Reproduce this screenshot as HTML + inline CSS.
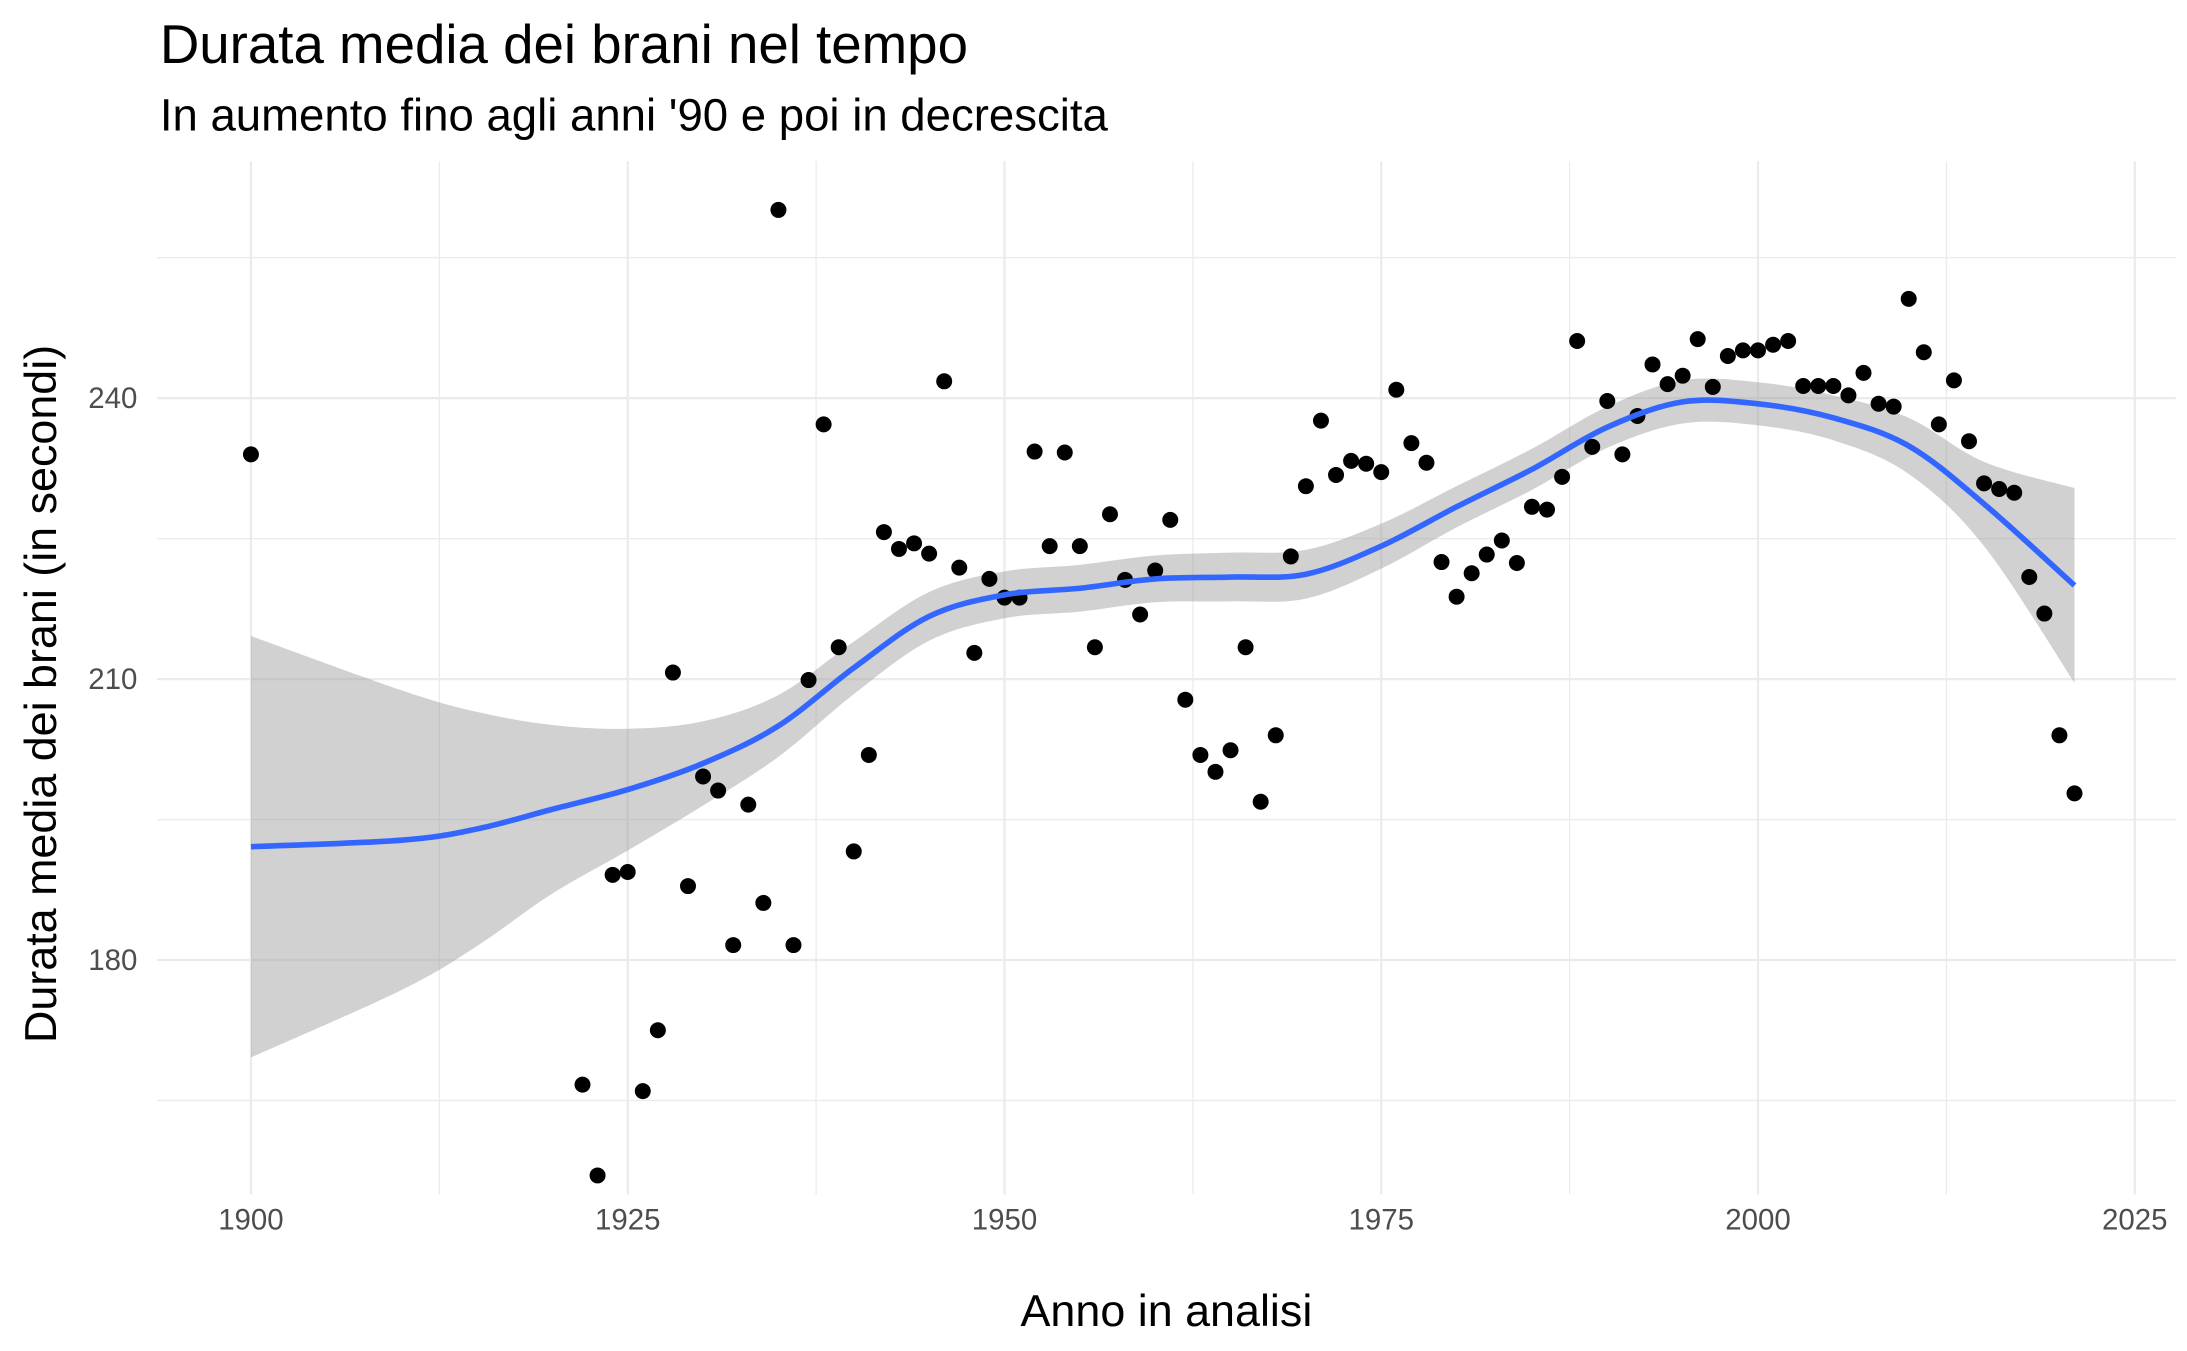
<!DOCTYPE html>
<html><head><meta charset="utf-8"><style>
html,body{margin:0;padding:0;background:#fff;}
svg{display:block;font-family:"Liberation Sans",Arial,sans-serif;}
</style></head><body>
<svg id="chart" width="2187" height="1351" viewBox="0 0 1560 963.66" xmlns="http://www.w3.org/2000/svg">
<text x="114" y="45" font-size="39" fill="#000">Durata media dei brani nel tempo</text>
<text x="114" y="93" font-size="32.5" fill="#000">In aumento fino agli anni '90 e poi in decrescita</text>
<g id="grid"></g>
<g id="band"></g>
<g id="pts"></g>
<g id="trend"></g>
<g id="axes"></g>
<text x="832" y="946" font-size="32" text-anchor="middle" fill="#000">Anno in analisi</text>
<text transform="translate(40,495) rotate(-90)" font-size="32" text-anchor="middle" fill="#000">Durata media dei brani (in secondi)</text>
</svg>
<script>
const years=[1900,1922,1923,1924,1925,1926,1927,1928,1929,1930,1931,1932,1933,1934,1935,1936,1937,1938,1939,1940,1941,1942,1943,1944,1945,1946,1947,1948,1949,1950,1951,1952,1953,1954,1955,1956,1957,1958,1959,1960,1961,1962,1963,1964,1965,1966,1967,1968,1969,1970,1971,1972,1973,1974,1975,1976,1977,1978,1979,1980,1981,1982,1983,1984,1985,1986,1987,1988,1989,1990,1991,1992,1993,1994,1995,1996,1997,1998,1999,2000,2001,2002,2003,2004,2005,2006,2007,2008,2009,2010,2011,2012,2013,2014,2015,2016,2017,2018,2019,2020,2021];
const durations=[234.0,166.7,157.0,189.1,189.4,166.0,172.5,210.7,187.9,199.6,198.1,181.6,196.6,186.1,260.1,181.6,209.9,237.2,213.4,191.6,201.9,225.7,223.9,224.5,223.4,241.8,221.9,212.8,220.7,218.7,218.7,234.3,224.2,234.2,224.2,213.4,227.6,220.6,216.9,221.6,227.0,207.8,201.9,200.1,202.4,213.4,196.9,204.0,223.1,230.6,237.6,231.8,233.3,233.0,232.1,240.9,235.2,233.1,222.5,218.8,221.3,223.3,224.8,222.4,228.4,228.1,231.6,246.1,234.8,239.7,234.0,238.1,243.6,241.5,242.4,246.3,241.2,244.5,245.1,245.1,245.7,246.1,241.3,241.3,241.3,240.3,242.7,239.4,239.1,250.6,244.9,237.2,241.9,235.4,230.9,230.3,229.9,220.9,217.0,204.0,197.8];
const smoothYears=[1900,1910,1915,1920,1925,1930,1935,1940,1945,1950,1955,1960,1965,1970,1975,1980,1985,1990,1995,2000,2005,2010,2015,2021];
const smoothFit=[192.1,192.8,194.0,196.1,198.2,201.0,205.0,211.2,216.7,219.0,219.7,220.7,220.9,221.2,224.2,228.4,232.4,236.9,239.6,239.4,237.9,234.9,228.7,220.0];
const smoothSe=[22.5,16,12.5,9,6.5,4.5,3.3,2.8,2.6,2.5,2.5,2.5,2.6,2.6,2.4,2.2,2.2,2.2,2.3,2.3,2.4,3.0,4.5,10.4];
const xTicks=[1900,1925,1950,1975,2000,2025];
const yTicks=[180,210,240];

const NS="http://www.w3.org/2000/svg";
const X=v=>179+(v-1900)*10.75;
const Y=v=>284-(v-240)*6.68;
function mk(tag,attrs,parent){const e=document.createElementNS(NS,tag);for(const k in attrs)e.setAttribute(k,attrs[k]);parent.appendChild(e);return e;}
const grid=document.getElementById('grid');
const PL=112,PR=1552,PT=115,PB=852;
for(let v=1900;v<=2025;v+=12.5){const major=xTicks.includes(v);
 const l=mk('line',{x1:X(v),x2:X(v),y1:PT,y2:PB,stroke:'#ebebeb','stroke-width':major?1.6:0.9},grid);
 
 }
for(let v=165;v<=255;v+=15){const major=yTicks.includes(v);
 const l=mk('line',{x1:PL,x2:PR,y1:Y(v),y2:Y(v),stroke:'#ebebeb','stroke-width':major?1.6:0.9},grid);
 
 }
function cr(pts){let d=`M${pts[0][0]},${pts[0][1]}`;
 for(let i=0;i<pts.length-1;i++){const p0=pts[i-1]||pts[i],p1=pts[i],p2=pts[i+1],p3=pts[i+2]||p2;
  d+=` C${p1[0]+(p2[0]-p0[0])/6},${p1[1]+(p2[1]-p0[1])/6} ${p2[0]-(p3[0]-p1[0])/6},${p2[1]-(p3[1]-p1[1])/6} ${p2[0]},${p2[1]}`;}
 return d;}
const up=smoothYears.map((y,i)=>[X(y),Y(smoothFit[i]+smoothSe[i])]);
const lo=smoothYears.map((y,i)=>[X(y),Y(smoothFit[i]-smoothSe[i])]).reverse();
const bandD=cr(up)+' L'+cr(lo).slice(1)+' Z';
const band=mk('path',{d:bandD,fill:'#999999','fill-opacity':0.45},document.getElementById('band'));


const pg=document.getElementById('pts');
years.forEach((y,i)=>{const c=mk('circle',{cx:X(y),cy:Y(durations[i]),r:5.7,fill:'#000'},pg);
 
 });
const line=mk('path',{d:cr(smoothYears.map((y,i)=>[X(y),Y(smoothFit[i])])),fill:'none',stroke:'#3366FF','stroke-width':4},document.getElementById('trend'));


const ax=document.getElementById('axes');
xTicks.forEach(v=>{const t=mk('text',{x:X(v),y:877,'font-size':21,'text-anchor':'middle',fill:'#4d4d4d'},ax);t.textContent=v;
 
 });
yTicks.forEach(v=>{const t=mk('text',{x:98,y:Y(v)+7,'font-size':21,'text-anchor':'end',fill:'#4d4d4d'},ax);t.textContent=v;
 
 });
</script>
</body></html>
